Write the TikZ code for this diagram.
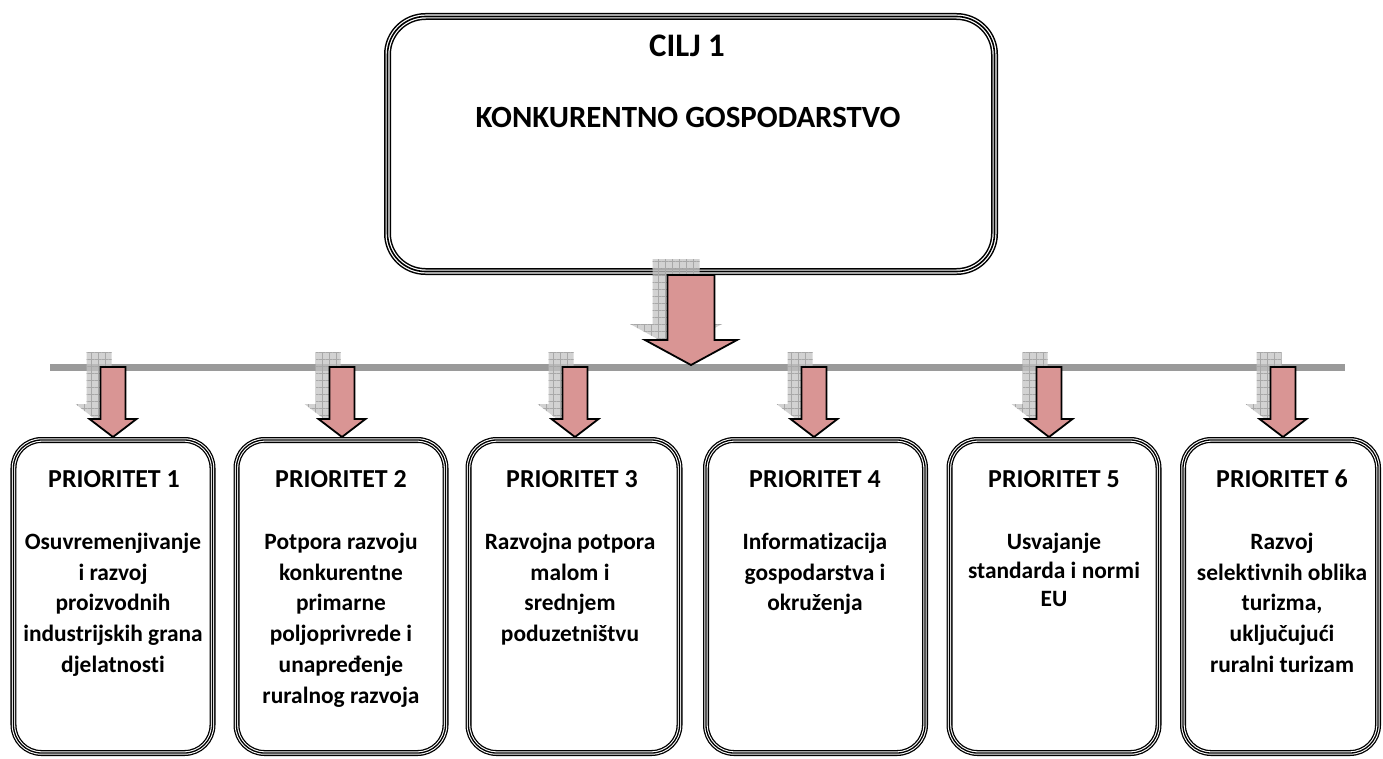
\documentclass[tikz,border=0pt]{standalone}
\usepackage{fontspec}
\setmainfont{Carlito}[Ligatures={NoCommon}]
\usetikzlibrary{calc,patterns.meta}
\definecolor{arrowred}{HTML}{D99594}
\definecolor{bargray}{HTML}{9A9A9A}
\definecolor{shadegray}{HTML}{C4C4C4}
\definecolor{shadeline}{HTML}{A8A8A8}
% #1 top point, #2 tip point, #3 half shaft, #4 half head, #5 head length, #6 dx, #7 dy
\def\arrowpath#1#2#3#4#5#6#7{let \p1=(#1), \p2=(#2) in
  (\x1-#3+#6,\y1+#7) -- (\x1+#3+#6,\y1+#7) -- (\x1+#3+#6,\y2+#5+#7) -- (\x1+#4+#6,\y2+#5+#7)
  -- (\x1+#6,\y2+#7) -- (\x1-#4+#6,\y2+#5+#7) -- (\x1-#3+#6,\y2+#5+#7) -- cycle}
\tikzset{
  pbox/.style={draw=black, line width=6bp, rounded corners=28bp, inner sep=0pt,
    postaction={draw=white, line width=3.4bp},
    postaction={draw=black, line width=1.3bp}},
  cbox/.style={draw=black, line width=7bp, rounded corners=38bp, inner sep=0pt,
    postaction={draw=white, line width=4bp},
    postaction={draw=black, line width=1.6bp}},
  redarrow/.style={fill=arrowred, draw=black, line width=1.8bp, line join=miter},
  shadowarrow/.style={fill opacity=0.75, fill=shadegray,
    postaction={pattern={Hatch[angle=0,distance=7bp,line width=0.6bp]}, pattern color=shadeline}},
  bar/.style={draw=bargray, line width=7bp},
  ttl/.style={anchor=base, font=\bfseries\fontsize{26}{31}\selectfont, inner sep=0pt},
  body/.style={anchor=north, align=center, font=\bfseries\fontsize{23.5}{31}\selectfont, inner sep=0pt},
  ctext/.style={anchor=base, font=\bfseries\fontsize{31}{37}\selectfont, inner sep=0pt}
}
\begin{document}
\begin{tikzpicture}[x=1bp,y=-1bp]
\useasboundingbox[fill=white] (0,0) rectangle (1383,758);
% top box
\node[cbox, minimum width=607bp, minimum height=255bp] (cilj) at (691,144) {};
\node[ctext, font=\bfseries\fontsize{33}{37}\selectfont] (ciljt) at (687,57) {CILJ 1};
\node[ctext] (ciljs) at (688,127) {KONKURENTNO GOSPODARSTVO};
% priority boxes
\node[pbox, minimum width=199bp, minimum height=313bp] (p1) at (113,596.5) {};
\node[pbox, minimum width=209bp, minimum height=313bp] (p2) at (341,596.5) {};
\node[pbox, minimum width=211bp, minimum height=313bp] (p3) at (574,596.5) {};
\node[pbox, minimum width=219bp, minimum height=313bp] (p4) at (815.5,596.5) {};
\node[pbox, minimum width=209bp, minimum height=313bp] (p5) at (1054,596.5) {};
\node[pbox, minimum width=195bp, minimum height=313bp] (p6) at (1280.5,596.5) {};
% texts
\node[ttl] (p1t) at (114,487) {PRIORITET 1};
\node[ttl] (p2t) at (341,487) {PRIORITET 2};
\node[ttl] (p3t) at (572,487) {PRIORITET 3};
\node[ttl] (p4t) at (815,487) {PRIORITET 4};
\node[ttl] (p5t) at (1054,487) {PRIORITET 5};
\node[ttl] (p6t) at (1282,487) {PRIORITET 6};
\node[body] (p1b) at (113,527.3) {\strut Osuvremenjivanje\\i razvoj\\proizvodnih\\industrijskih grana\\djelatnosti};
\node[body] (p2b) at (341,527.3) {\strut Potpora razvoju\\konkurentne\\primarne\\poljoprivrede i\\unapređenje\\ruralnog razvoja};
\node[body] (p3b) at (570,527.3) {\strut Razvojna potpora\\malom i\\srednjem\\poduzetništvu};
\node[body] (p4b) at (815,527.3) {\strut Informatizacija\\gospodarstva i\\okruženja};
\node[body, font=\bfseries\fontsize{23.5}{29}\selectfont] (p5b) at (1054,528.7) {\strut Usvajanje\\standarda i normi\\EU};
\node[body] (p6b) at (1282,527.3) {\strut Razvoj\\selektivnih oblika\\turizma,\\uključujući\\ruralni turizam};
% bar
\coordinate (barL) at (50,367);
\coordinate (barR) at (1345,367);
\draw[bar] (barL) -- (barR);
% arrow anchors
\coordinate (bigtip) at (691,365);
\coordinate (t1) at (113,367);
\coordinate (t2) at (342,367);
\coordinate (t3) at (575,367);
\coordinate (t4) at (814,367);
\coordinate (t5) at (1049,367);
\coordinate (t6) at (1283,367);
% shadows
\fill[shadowarrow] \arrowpath{cilj.south}{bigtip}{23.5bp}{46bp}{25bp}{-15bp}{16bp};
\foreach \i in {1,...,6}{
  \fill[shadowarrow] \arrowpath{t\i}{p\i.north}{12.5bp}{23.5bp}{18bp}{-14bp}{15bp};
}
% red arrows
\draw[redarrow] \arrowpath{cilj.south}{bigtip}{23.5bp}{46bp}{25bp}{0bp}{0bp};
\foreach \i in {1,...,6}{
  \draw[redarrow] \arrowpath{t\i}{p\i.north}{12.5bp}{23.5bp}{18bp}{0bp}{0bp};
}
\end{tikzpicture}
\end{document}
